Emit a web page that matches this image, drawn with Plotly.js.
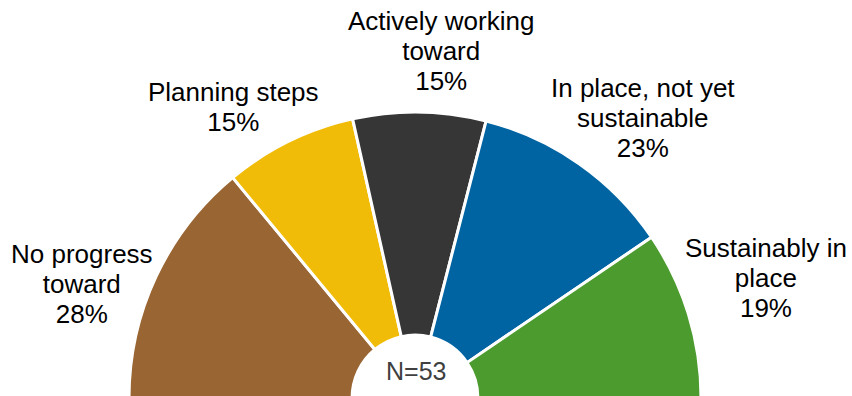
<!DOCTYPE html>
<html>
<head>
<meta charset="utf-8">
<script src="https://cdn.plot.ly/plotly-3.0.1.min.js"></script>
<style>
html,body{margin:0;padding:0;overflow:hidden;background:#fff;}
#chart{width:852px;height:800px;}
</style>
</head>
<body>
<div id="chart"></div>
<script>
const categories = ["No progress|toward", "Planning steps", "Actively working|toward", "In place, not yet|sustainable", "Sustainably in|place"];
const percents = [28, 15, 15, 23, 19];
const colors = ["#996633", "#F1BC07", "#363636", "#0064A2", "#4C9B2F"];
const nLabel = "N=53";

// label anchor positions (pixels from top-left), styling only
const labelPos = [[82, 284], [233, 107], [441, 51], [643, 118], [766, 278]];

const H = 800;
const total = percents.reduce((a, b) => a + b, 0);
const values = percents.concat([total]);
const labels = categories.map(c => c.replace("|", " ")).concat([""]);
const sliceColors = colors.concat(["rgba(0,0,0,0)"]);
const lineWidths = percents.map(() => 3).concat([0]);

const trace = {
  type: "pie",
  values: values,
  labels: labels,
  textinfo: "none",
  sort: false,
  direction: "clockwise",
  rotation: -90,
  hole: 0.22,
  marker: {colors: sliceColors, line: {color: "#ffffff", width: lineWidths}},
  domain: {x: [129/852, 701/852], y: [(H-684)/H, (H-112)/H]},
  hoverinfo: "skip",
  showlegend: false
};

const fontFam = "Liberation Sans, Arial, sans-serif";
const wrap = s => "<span style='font-size:26px'>" + s + "</span>";
const annotations = categories.map((c, i) => ({
  text: c.split("|").concat([percents[i] + "%"]).map(wrap).join("<br>"),
  xref: "paper", yref: "paper",
  x: labelPos[i][0] / 852, y: (H - labelPos[i][1]) / H,
  xanchor: "center", yanchor: "middle", align: "center", showarrow: false,
  font: {family: fontFam, size: 23, color: "#000000"}
}));
annotations.push({
  text: nLabel, xref: "paper", yref: "paper", x: 416/852, y: (H-371)/H,
  xanchor: "center", yanchor: "middle", showarrow: false,
  font: {family: fontFam, size: 25, color: "#404040"}
});

const layout = {
  width: 852,
  height: H,
  margin: {l: 0, r: 0, t: 0, b: 0},
  paper_bgcolor: "#ffffff",
  showlegend: false,
  annotations: annotations
};

Plotly.newPlot("chart", [trace], layout, {staticPlot: true});
</script>
</body>
</html>
